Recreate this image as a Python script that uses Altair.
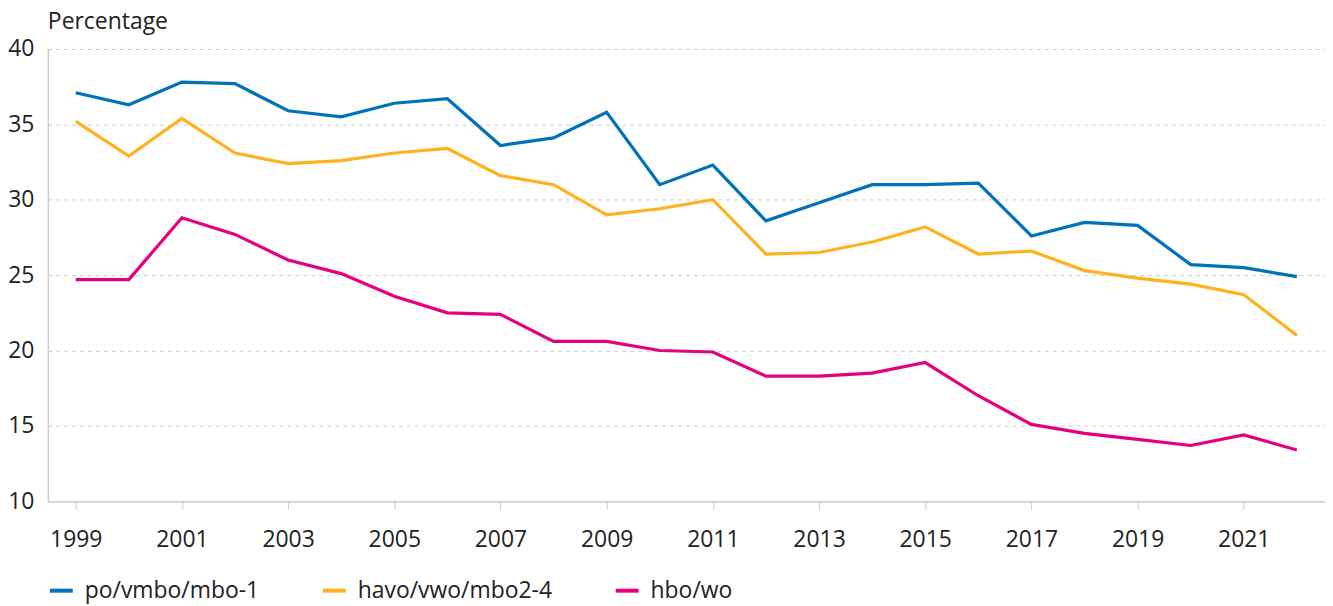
import altair as alt
import pandas as pd

years = list(range(1999, 2023))
series_names = ["po/vmbo/mbo-1", "havo/vwo/mbo2-4", "hbo/wo"]
po_vmbo = [37.1, 36.3, 37.8, 37.7, 35.9, 35.5, 36.4, 36.7, 33.6, 34.1, 35.8, 31.0,
           32.3, 28.6, 29.8, 31.0, 31.0, 31.1, 27.6, 28.5, 28.3, 25.7, 25.5, 24.9]
havo_vwo = [35.2, 32.9, 35.4, 33.1, 32.4, 32.6, 33.1, 33.4, 31.6, 31.0, 29.0, 29.4,
            30.0, 26.4, 26.5, 27.2, 28.2, 26.4, 26.6, 25.3, 24.8, 24.4, 23.7, 21.0]
hbo_wo = [24.7, 24.7, 28.8, 27.7, 26.0, 25.1, 23.6, 22.5, 22.4, 20.6, 20.6, 20.0,
          19.9, 18.3, 18.3, 18.5, 19.2, 17.0, 15.1, 14.5, 14.1, 13.7, 14.4, 13.4]
tick_years = list(range(1999, 2022, 2))
y_ticks = [10, 15, 20, 25, 30, 35, 40]
colors = ["#0072ba", "#ffb11f", "#e5007d"]

rows = []
for name, vals in zip(series_names, [po_vmbo, havo_vwo, hbo_wo]):
    for yr, v in zip(years, vals):
        rows.append({"year": yr, "value": v, "series": name})
df = pd.DataFrame(rows)

FONT = "Open Sans, Noto Sans, sans-serif"
TXT = "#222222"
FS = 23

chart = alt.Chart(df).mark_line(strokeWidth=3.2).encode(
    x=alt.X("year:Q",
            scale=alt.Scale(domain=[1998.475, 2022.53], nice=False, zero=False),
            axis=alt.Axis(values=tick_years, format="d", title=None, grid=False,
                          tickColor="#cccccc", tickSize=8, tickWidth=1,
                          domainColor="#cccccc", domainWidth=1.5,
                          labelFont=FONT, labelFontSize=FS, labelColor=TXT,
                          labelPadding=19, labelFlush=False, labelLimit=200)),
    y=alt.Y("value:Q",
            scale=alt.Scale(domain=[10, 40], nice=False, zero=False),
            axis=alt.Axis(values=y_ticks, title=None,
                          ticks=False, tickSize=0, labelPadding=14,
                          domainColor="#cccccc", domainWidth=1.5,
                          gridColor="#cccccc", gridDash=[4, 4], gridWidth=1,
                          labelFont=FONT, labelFontSize=FS, labelColor=TXT)),
    color=alt.Color("series:N",
                    scale=alt.Scale(domain=series_names, range=colors),
                    legend=alt.Legend(title=None, orient="none",
                                      direction="horizontal",
                                      legendX=0, legendY=530,
                                      symbolType="stroke", symbolStrokeWidth=4,
                                      symbolSize=529, labelFont=FONT,
                                      labelFontSize=FS, labelColor=TXT,
                                      labelLimit=400,
                                      labelOffset=10, columnPadding=55,
                                      padding=0)),
).properties(
    title=alt.TitleParams("Percentage", anchor="start", frame="group",
                          font=FONT, fontSize=FS, fontWeight="normal",
                          color=TXT, offset=4, limit=400),
    width=1282,
    height=454,
    autosize=alt.AutoSizeParams(type="none"),
    padding={"left": 40, "top": 40, "right": 0, "bottom": 103},
).configure_view(stroke=None)

chart.save("out.html", embed_options={"renderer": "svg", "actions": False})
